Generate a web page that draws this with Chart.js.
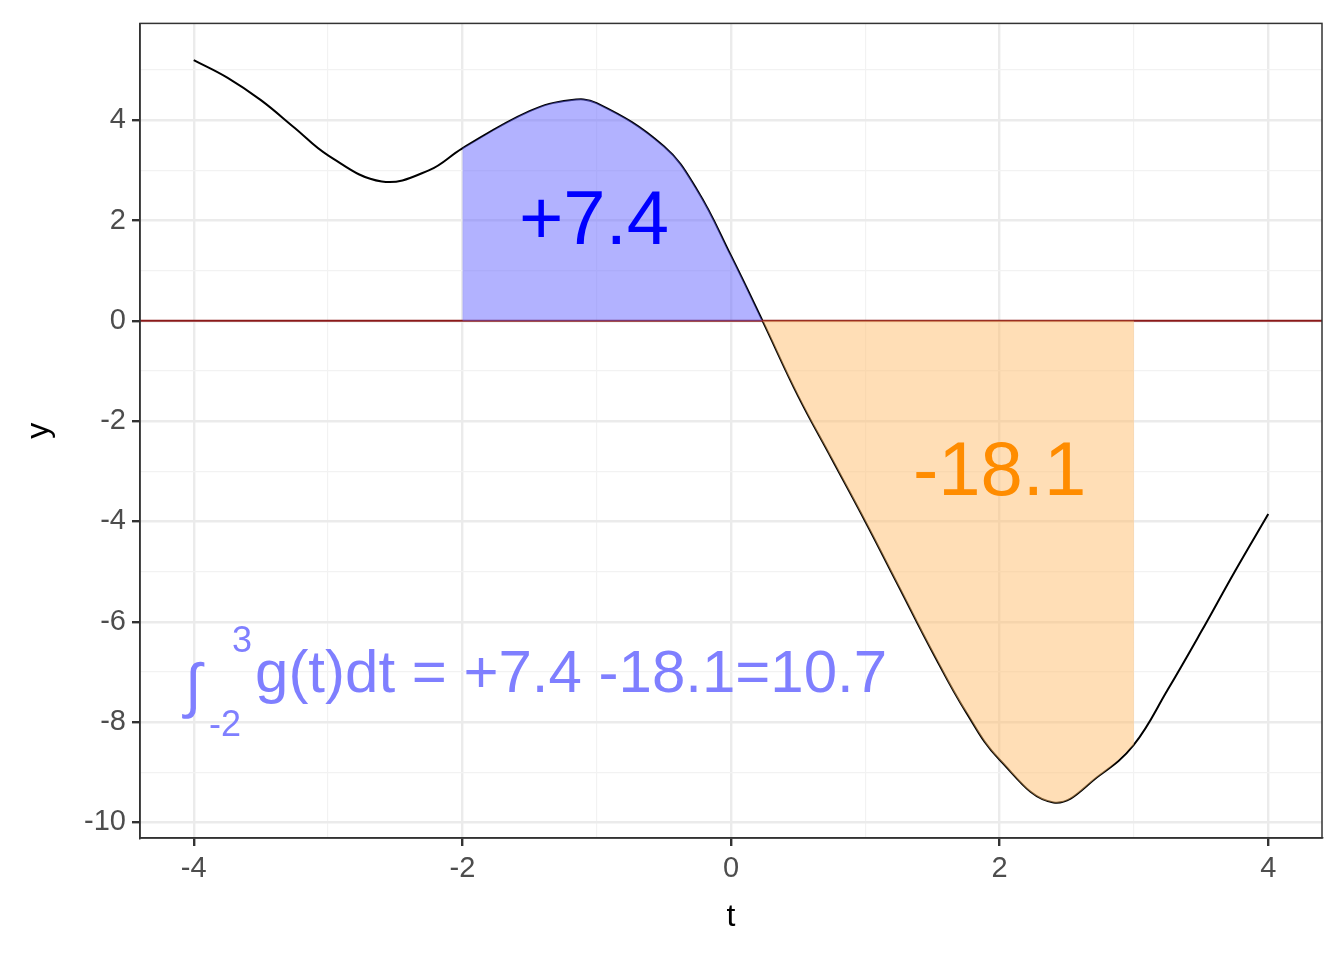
<!DOCTYPE html>
<html lang="en">
<head>
  <meta charset="utf-8">
  <title>Integral of g(t)</title>
  <script src="https://cdn.jsdelivr.net/npm/chart.js"></script>
  <style>
    body { margin: 0; background: #fff; }
    #wrap { width: 1344px; height: 960px; }
  </style>
</head>
<body>
  <div id="wrap"><canvas id="chart"></canvas></div>
  <script>
    // values
    const tValues = [-4, -3.75, -3.5, -3.25, -3, -2.6, -2.25, -2, -1.5, -1.2, -1, -0.5, -0.25, 0, 0.235, 0.5, 0.75, 1, 1.25, 1.5, 1.75, 2, 2.4, 2.75, 3, 3.25, 3.5, 3.75, 4];
    const gValues = [5.2, 4.85, 4.4, 3.85, 3.3, 2.78, 3.0, 3.44, 4.18, 4.4, 4.34, 3.48, 2.6, 1.3, 0, -1.5, -2.75, -4.0, -5.3, -6.6, -7.8, -8.75, -9.6, -9.05, -8.45, -7.36, -6.2, -5.0, -3.85];
    const posRange = [-2, 0.235];
    const negRange = [0.235, 3];
    const areaLabels = ['+7.4', '-18.1'];
    const integralText = 'g(t)dt = +7.4 -18.1=10.7';

    const curve = tValues.map((t, i) => ({ x: t, y: gValues[i] }));
    const inRange = (r) => curve.filter(p => p.x >= r[0] && p.x <= r[1]);

    const textPlugin = {
      id: 'labels',
      afterDatasetsDraw(chart) {
        const { ctx, scales: { x, y } } = chart;
        ctx.save();
        ctx.textAlign = 'center';
        ctx.textBaseline = 'middle';
        ctx.font = '76px "Liberation Sans", Arial, sans-serif';
        ctx.fillStyle = '#0000ff';
        ctx.fillText(areaLabels[0], x.getPixelForValue(-1.02), y.getPixelForValue(1.95));
        ctx.fillStyle = '#ff8c00';
        ctx.fillText(areaLabels[1], x.getPixelForValue(2.0), y.getPixelForValue(-3.05));
        ctx.fillStyle = '#7f7fff';
        ctx.textAlign = 'left';
        ctx.textBaseline = 'alphabetic';
        ctx.font = '60px "Liberation Sans", Arial, sans-serif';
        const bx = x.getPixelForValue(-4.05), by = y.getPixelForValue(-7.4);
        ctx.fillText('\u222B', bx - 2, by + 14);
        ctx.font = '36px "Liberation Sans", Arial, sans-serif';
        ctx.fillText('3', bx + 45, by - 40);
        ctx.fillText('-2', bx + 22, by + 44);
        ctx.font = '60px "Liberation Sans", Arial, sans-serif';
        ctx.fillText(integralText, bx + 68, by);
        ctx.restore();
      }
    };

    const font = { family: '"Liberation Sans", Arial, sans-serif', size: 29 };
    const gridColor = (c) => (c.tick && c.tick.value % 2 === 0) ? '#ebebeb' : '#f2f2f2';
    const gridWidth = (c) => (c.tick && c.tick.value % 2 === 0) ? 2.4 : 1.2;

    new Chart(document.getElementById('chart'), {
      type: 'line',
      data: {
        datasets: [
          { data: inRange(posRange), borderWidth: 0, pointRadius: 0, fill: 'origin',
            backgroundColor: 'rgba(102,102,255,0.5)', tension: 0.4 },
          { data: inRange(negRange), borderWidth: 0, pointRadius: 0, fill: 'origin',
            backgroundColor: 'rgba(255,190,110,0.5)', tension: 0.4 },
          { data: [{ x: -4.4, y: 0 }, { x: 4.4, y: 0 }], borderColor: '#8b1a1a', borderWidth: 2,
            pointRadius: 0, fill: false },
          { data: curve, borderColor: '#000', borderWidth: 2, pointRadius: 0, fill: false,
            tension: 0.4 }
        ]
      },
      options: {
        responsive: true,
        maintainAspectRatio: false,
        animation: false,
        layout: { padding: { top: 22, right: 22, left: 16, bottom: 20 } },
        plugins: { legend: { display: false }, tooltip: { enabled: false } },
        scales: {
          x: {
            type: 'linear', min: -4.4, max: 4.4,
            afterBuildTicks: (s) => { s.ticks = [-4, -3, -2, -1, 0, 1, 2, 3, 4].map(v => ({ value: v })); },
            ticks: { font, color: '#4d4d4d', padding: 6, callback: v => v % 2 === 0 ? v : '' },
            grid: { color: gridColor, lineWidth: gridWidth, tickColor: c => c.tick.value % 2 === 0 ? '#333' : 'rgba(0,0,0,0)', tickLength: 8 },
            border: { color: '#333', width: 1.5 },
            title: { display: true, text: 't', font: { family: font.family, size: 32 }, color: '#000', padding: { top: 4 } },
            afterFit: (s) => { s.height = 102; }
          },
          y: {
            type: 'linear', min: -10.31, max: 5.93,
            afterBuildTicks: (s) => { s.ticks = [-10, -9, -8, -7, -6, -5, -4, -3, -2, -1, 0, 1, 2, 3, 4, 5].map(v => ({ value: v })); },
            ticks: { font, color: '#4d4d4d', padding: 6, callback: v => v % 2 === 0 ? v : '' },
            grid: { color: gridColor, lineWidth: gridWidth, tickColor: c => c.tick.value % 2 === 0 ? '#333' : 'rgba(0,0,0,0)', tickLength: 8 },
            border: { color: '#333', width: 1.5 },
            title: { display: true, text: 'y', font: { family: font.family, size: 32 }, color: '#000' },
            afterFit: (s) => { s.width = 124; }
          }
        }
      },
      plugins: [textPlugin, {
        id: 'frame',
        afterDraw(chart) {
          const { ctx, chartArea: a } = chart;
          ctx.save();
          ctx.strokeStyle = '#333';
          ctx.lineWidth = 1.5;
          ctx.strokeRect(a.left, a.top, a.right - a.left, a.bottom - a.top);
          ctx.restore();
        }
      }]
    });
  </script>
</body>
</html>
